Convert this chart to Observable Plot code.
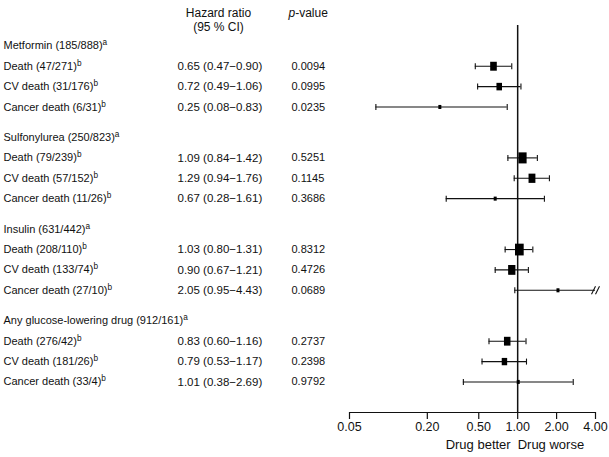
<!DOCTYPE html>
<html><head><meta charset="utf-8">
<script src="https://cdn.jsdelivr.net/npm/d3@7"></script>
<script src="https://cdn.jsdelivr.net/npm/@observablehq/plot@0.6"></script>
<style>
body{margin:0;background:#fff;}
#chart svg g[aria-label="x-axis tick label"] text{font-size:12.5px;}
</style></head><body><div id="chart"></div>
<script>
const groups = ["Metformin", "Sulfonylurea", "Insulin", "Any glucose-lowering drug"];
const groupCounts = ["185/888", "250/823", "631/442", "912/161"];
const outcomes = ["Death", "CV death", "Cancer death"];
const counts = [["47/271", "31/176", "6/31"], ["79/239", "57/152", "11/26"], ["208/110", "133/74", "27/10"], ["276/42", "181/26", "33/4"]];
const hr = [[0.65, 0.72, 0.25], [1.09, 1.29, 0.67], [1.03, 0.90, 2.05], [0.83, 0.79, 1.01]];
const lo = [[0.47, 0.49, 0.08], [0.84, 0.94, 0.28], [0.80, 0.67, 0.95], [0.60, 0.53, 0.38]];
const hi = [[0.90, 1.06, 0.83], [1.42, 1.76, 1.61], [1.31, 1.21, 4.43], [1.16, 1.17, 2.69]];
const pval = [["0.0094", "0.0995", "0.0235"], ["0.5251", "0.1145", "0.3686"], ["0.8312", "0.4726", "0.0689"], ["0.2737", "0.2398", "0.9792"]];
const xTicks = [0.05, 0.20, 0.50, 1.00, 2.00, 4.00];

const f2 = d3.format(".2f");
const xMin = xTicks[0], xMax = xTicks[xTicks.length - 1];
const rows = [];
groups.forEach((g, gi) => {
  const base = gi * 4.5;
  rows.push({pos: base, label: `${g} (${groupCounts[gi]})^a`, header: true});
  outcomes.forEach((o, oi) => {
    const h = hr[gi][oi], l = lo[gi][oi], u = hi[gi][oi];
    rows.push({pos: base + oi + 1, label: `${o} (${counts[gi][oi]})^b`, hr: h, lo: l, hi: u,
      p: pval[gi][oi], ci: `${f2(h)} (${f2(l)}\u2212${f2(u)})`});
  });
});
const est = rows.filter(d => !d.header);

const capSym = {draw(ctx, size) { const r = Math.sqrt(size / Math.PI); ctx.moveTo(0, -r); ctx.lineTo(0, r); }};
const breakSym = {draw(ctx, size) { const r = Math.sqrt(size / Math.PI);
  ctx.moveTo(-r * 0.75 - 1, r); ctx.lineTo(-r * 0.25 + 1, -r);
  ctx.moveTo(-r * 0.25 + 1, r); ctx.lineTo(r * 0.25 + 3, -r); }};
const boxSym = {draw(ctx, size) { const r = Math.sqrt(size / Math.PI); const w = r, h = r * 1.35;
  ctx.moveTo(-w, -h); ctx.lineTo(w, -h); ctx.lineTo(w, h); ctx.lineTo(-w, h); ctx.closePath(); }};

const ink = "#111";
const chart = Plot.plot({
  width: 609, height: 457,
  marginLeft: 349, marginRight: 14, marginTop: 25, marginBottom: 45,
  style: {fontFamily: "'Liberation Sans', Arial, Helvetica, sans-serif", fontSize: "11px", background: "white", color: ink},
  x: {type: "log", domain: [xMin, xMax]},
  y: {domain: [-1, 18], range: [25, 412], axis: null},
  r: {type: "identity"},
  marks: [
    Plot.ruleX([1], {stroke: ink, strokeWidth: 1.5}),
    Plot.ruleY([18], {x1: xMin, x2: xMax, stroke: ink, strokeWidth: 1.2}),
    Plot.ruleY(est, {y: "pos", x1: "lo", x2: d => Math.min(d.hi, xMax), stroke: ink, strokeWidth: 1.1}),
    Plot.dot(est, {x: "lo", y: "pos", symbol: capSym, r: 3, fill: "none", stroke: ink, strokeWidth: 1.1}),
    Plot.dot(est.filter(d => d.hi <= xMax), {x: "hi", y: "pos", symbol: capSym, r: 3, fill: "none", stroke: ink, strokeWidth: 1.1}),
    Plot.dot(est.filter(d => d.hi > xMax), {x: () => xMax, y: "pos", symbol: breakSym, r: 4, fill: "none", stroke: ink, strokeWidth: 1.1}),
    Plot.dot(est, {x: "hr", y: "pos", symbol: boxSym,
      r: d => Math.max(1.5, 2.15 / (Math.log(d.hi) - Math.log(d.lo))), fill: "black", stroke: null}),
    Plot.text(rows, {y: "pos", frameAnchor: "left", dx: -346, textAnchor: "start", text: "label", fill: ink}),
    Plot.text(est, {y: "pos", frameAnchor: "left", dx: -172, textAnchor: "start", text: "ci", fontSize: 11.5, fill: ink}),
    Plot.text(est, {y: "pos", frameAnchor: "left", dx: -58, textAnchor: "start", text: "p", fill: ink}),
    Plot.text(["Hazard ratio"], {frameAnchor: "top-left", dx: -131, dy: -17, textAnchor: "middle", text: d => d, fontSize: 12, fill: ink}),
    Plot.text(["(95 % CI)"], {frameAnchor: "top-left", dx: -131, dy: -3, textAnchor: "middle", text: d => d, fontSize: 12, fill: ink}),
    Plot.text(["p-value"], {frameAnchor: "top-left", dx: -61, dy: -17, textAnchor: "start", text: d => d, fontSize: 12, fill: ink}),
    Plot.axisX({ticks: xTicks, tickFormat: f2, tickSize: 7, tickPadding: 3, fontSize: 12.5, stroke: ink, strokeWidth: 1.2}),
    Plot.text([1], {x: d => d, frameAnchor: "bottom", dy: 36, dx: -7, textAnchor: "end", text: () => "Drug better", fontSize: 13, fill: ink}),
    Plot.text([1], {x: d => d, frameAnchor: "bottom", dy: 36, dx: 0, textAnchor: "start", text: () => "Drug worse", fontSize: 13, fill: ink})
  ]
});
document.getElementById("chart").appendChild(chart);

// superscripts and italic p
chart.querySelectorAll("text").forEach(t => {
  const s = t.textContent;
  if (s.includes("^") && t.children.length === 0) {
    const [main, sup] = s.split("^");
    t.textContent = main;
    const ts = document.createElementNS("http://www.w3.org/2000/svg", "tspan");
    ts.setAttribute("dy", "-4");
    ts.setAttribute("font-size", "75%");
    ts.textContent = sup;
    t.appendChild(ts);
  } else if (s === "p-value") {
    t.textContent = "";
    const ts = document.createElementNS("http://www.w3.org/2000/svg", "tspan");
    ts.setAttribute("font-style", "italic");
    ts.textContent = "p";
    t.appendChild(ts);
    t.appendChild(document.createTextNode("-value"));
  }
});
</script></body></html>
